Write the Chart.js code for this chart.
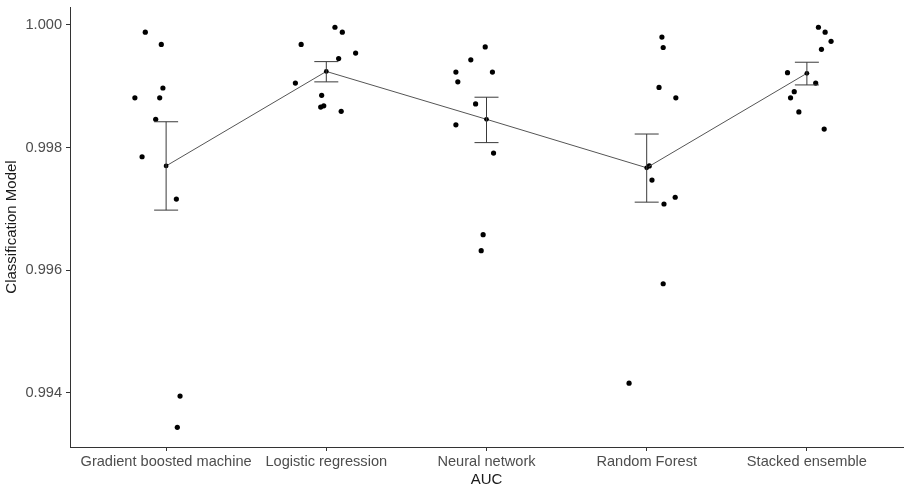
<!DOCTYPE html>
<html>
<head>
<meta charset="utf-8">
<title>AUC by classification model</title>
<script src="https://cdn.jsdelivr.net/npm/chart.js@4"></script>
<style>
  html, body { margin: 0; padding: 0; background: #ffffff; }
  canvas { display: block; }
</style>
</head>
<body>
<canvas id="chart" width="907" height="489"></canvas>
<script>
// Model names on the horizontal axis
const categories = ['Gradient boosted machine', 'Logistic regression', 'Neural network', 'Random Forest', 'Stacked ensemble'];

// AUC of each cross-validation fold, per model
const gradientBoostedAuc = [0.99988, 0.99968, 0.99897, 0.99881, 0.99881, 0.99846, 0.99785, 0.99716, 0.99395, 0.99344];
const logisticAuc        = [0.99996, 0.99988, 0.99968, 0.99954, 0.99945, 0.99905, 0.99885, 0.99868, 0.99866, 0.99859];
const neuralNetAuc       = [0.99964, 0.99943, 0.99923, 0.99923, 0.99907, 0.99871, 0.99837, 0.99791, 0.99658, 0.99632];
const randomForestAuc    = [0.99980, 0.99963, 0.99898, 0.99881, 0.99770, 0.99747, 0.99719, 0.99708, 0.99578, 0.99416];
const stackedAuc         = [0.99996, 0.99988, 0.99973, 0.99960, 0.99922, 0.99905, 0.99891, 0.99881, 0.99858, 0.99830];

// Horizontal jitter of each fold point, in category units
const gradientBoostedJitter = [-0.130, -0.030, -0.020, -0.195, -0.040, -0.065, -0.150, 0.064, 0.087, 0.070];
const logisticJitter        = [0.054, 0.100, -0.157, 0.183, 0.077, -0.193, -0.029, -0.016, -0.035, 0.093];
const neuralNetJitter       = [-0.008, -0.098, -0.191, 0.037, -0.179, -0.068, -0.191, 0.044, -0.021, -0.033];
const randomForestJitter    = [0.095, 0.103, 0.077, 0.182, 0.016, 0.033, 0.178, 0.108, 0.103, -0.110];
const stackedJitter         = [0.072, 0.114, 0.151, 0.091, -0.121, 0.055, -0.079, -0.102, -0.050, 0.108];

// Mean AUC per model with its standard-error band
const meanAuc  = [0.99770, 0.99924, 0.99846, 0.99767, 0.99921];
const errorLow = [0.99698, 0.99907, 0.99808, 0.99711, 0.99902];
const errorHigh = [0.99842, 0.99940, 0.99882, 0.99822, 0.99939];

// Value axis ticks
const yTicks = [0.994, 0.996, 0.998, 1.000];

const foldSeries = [gradientBoostedAuc, logisticAuc, neuralNetAuc, randomForestAuc, stackedAuc];
const jitterSeries = [gradientBoostedJitter, logisticJitter, neuralNetJitter, randomForestJitter, stackedJitter];

const TEXT_FONT = "'Liberation Sans', Arial, Helvetica, sans-serif";
const AXIS_COLOR = '#333333';

const foldDatasets = foldSeries.map((values, i) => ({
  type: 'scatter',
  label: categories[i],
  data: values.map((v, j) => ({ x: i + 1 + jitterSeries[i][j], y: v })),
  pointRadius: 2.6,
  pointBackgroundColor: '#000000',
  pointBorderWidth: 0,
  pointHoverRadius: 2.6,
  order: 2
}));

const meanDataset = {
  type: 'line',
  label: 'Mean AUC',
  data: meanAuc.map((v, i) => ({ x: i + 1, y: v })),
  borderColor: '#555555',
  borderWidth: 1,
  pointRadius: 2.4,
  pointBackgroundColor: '#000000',
  pointBorderWidth: 0,
  tension: 0,
  fill: false,
  order: 1
};

// Standard-error bars with horizontal caps, placed through the chart scales
const errorBarPlugin = {
  id: 'errorBars',
  afterDatasetsDraw(chart) {
    const { ctx, scales: { x, y } } = chart;
    const capHalf = 12;
    ctx.save();
    ctx.strokeStyle = '#3a3a3a';
    ctx.lineWidth = 1;
    meanAuc.forEach((_, i) => {
      const px = x.getPixelForValue(i + 1);
      const top = y.getPixelForValue(errorHigh[i]);
      const bottom = y.getPixelForValue(errorLow[i]);
      ctx.beginPath();
      ctx.moveTo(px, top);
      ctx.lineTo(px, bottom);
      ctx.moveTo(px - capHalf, top);
      ctx.lineTo(px + capHalf, top);
      ctx.moveTo(px - capHalf, bottom);
      ctx.lineTo(px + capHalf, bottom);
      ctx.stroke();
    });
    ctx.restore();
  }
};

// Fixed axis box sizes; edge label overhang is left to the layout padding
function fixAxisBox(axis, size) {
  if (axis.isHorizontal()) {
    axis.height = size;
  } else {
    axis.width = size;
  }
  axis.paddingTop = 0;
  axis.paddingBottom = 0;
  axis.paddingLeft = 0;
  axis.paddingRight = 0;
}

new Chart(document.getElementById('chart'), {
  type: 'scatter',
  data: { datasets: [...foldDatasets, meanDataset] },
  options: {
    responsive: false,
    devicePixelRatio: 1,
    animation: false,
    layout: { padding: { top: 7, right: 1, bottom: 0, left: 0 } },
    plugins: {
      legend: { display: false },
      tooltip: { enabled: false }
    },
    scales: {
      x: {
        type: 'linear',
        min: 0.4,
        max: 5.6,
        afterBuildTicks(axis) {
          axis.ticks = categories.map((_, i) => ({ value: i + 1 }));
        },
        afterFit(axis) { fixAxisBox(axis, 42); },
        ticks: {
          autoSkip: false,
          maxRotation: 0,
          minRotation: 0,
          padding: 2,
          color: '#4d4d4d',
          font: { family: TEXT_FONT, size: 14.6 },
          callback: (value) => categories[Math.round(value) - 1]
        },
        grid: {
          display: true,
          drawOnChartArea: false,
          drawTicks: true,
          tickLength: 4,
          tickColor: AXIS_COLOR
        },
        border: { display: true, color: AXIS_COLOR, width: 1 },
        title: {
          display: true,
          text: 'AUC',
          color: '#1a1a1a',
          padding: { top: 0, bottom: 0 },
          font: { family: TEXT_FONT, size: 15 }
        }
      },
      y: {
        type: 'linear',
        min: 0.99312,
        max: 1.00029,
        afterBuildTicks(axis) {
          axis.ticks = yTicks.map(v => ({ value: v }));
        },
        afterFit(axis) { fixAxisBox(axis, 70); },
        ticks: {
          padding: 4,
          color: '#4d4d4d',
          font: { family: TEXT_FONT, size: 14.6 },
          callback: (value) => Number(value).toFixed(3)
        },
        grid: {
          display: true,
          drawOnChartArea: false,
          drawTicks: true,
          tickLength: 4,
          tickColor: AXIS_COLOR
        },
        border: { display: true, color: AXIS_COLOR, width: 1 },
        title: {
          display: true,
          text: 'Classification Model',
          color: '#1a1a1a',
          padding: { top: 3, bottom: 0 },
          font: { family: TEXT_FONT, size: 15 }
        }
      }
    }
  },
  plugins: [errorBarPlugin]
});
</script>
</body>
</html>
